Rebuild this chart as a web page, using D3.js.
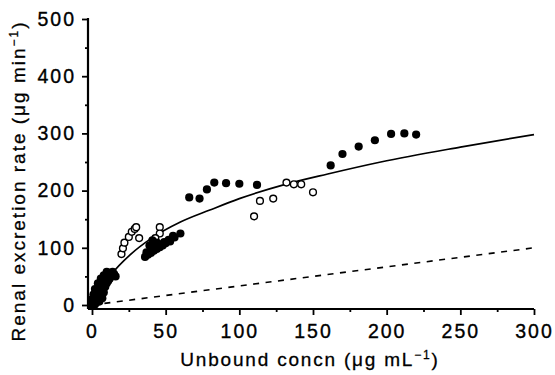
<!DOCTYPE html>
<html>
<head>
<meta charset="utf-8">
<script src="https://cdn.jsdelivr.net/npm/d3@7"></script>
<style>
  html, body { margin: 0; padding: 0; background: #fff; }
  svg { display: block; }
  text { font-family: "Liberation Sans", Arial, Helvetica, sans-serif; fill: #000; }
</style>
</head>
<body>
<svg id="chart" width="555" height="375"></svg>
<script>
// ---- data ----
const xTicks = [0, 50, 100, 150, 200, 250, 300];
const xMinorTicks = [25, 75, 125, 175, 225, 275];
const yTicks = [0, 100, 200, 300, 400, 500];
const yMinorTicks = [50, 150, 250, 350, 450];

// filled circles (x = unbound concn, y = renal excretion rate)
const filledX = [0, 1, 2, 3, 1, 2, 3, 4, 5, 6, 4, 6, 8, 7, 9, 8, 10, 11, 9, 12, 11, 13, 12, 14, 15, 16,
                 0, 1, 2, 4, 6, 8, 10, 5, 7,
                 36, 38, 40, 42, 44, 46, 48, 50, 53, 56, 60, 41, 44, 39, 47, 52,
                 37, 40, 43, 49, 55,
                 66, 73, 78, 83, 91, 100, 112,
                 162, 170, 181, 192, 203, 212, 220];
const filledY = [0, 3, 1, 5, 8, 12, 16, 10, 20, 14, 24, 26, 22, 30, 32, 36, 38, 42, 45, 46, 50, 52, 56, 58, 54, 50,
                 10, 18, 28, 38, 46, 52, 58, 6, 12,
                 84, 88, 91, 95, 98, 101, 104, 108, 111, 118, 125, 113, 109, 104, 106, 114,
                 92, 98, 103, 110, 121,
                 188, 186, 202, 214, 213, 212, 210,
                 244, 264, 277, 288, 299, 300, 298];

// open circles
const openX = [20, 21, 22, 25, 27, 29, 30, 32, 46, 46, 43,
               110, 114, 123, 132, 137, 142, 150];
const openY = [89, 99, 109, 119, 128, 133, 136, 117, 136, 125, 117,
               155, 182, 186, 214, 211, 211, 197];

// solid fitted curve, points read along it
const curveX = [0, 5, 13, 26, 40, 60, 80, 100, 130, 160, 196, 250, 300];
const curveY = [0, 23, 53, 88, 116, 145, 166, 186, 210, 229, 250, 276, 298];

// dashed line (end points)
const dashX = [0, 300];
const dashY = [0, 100];

// ---- drawing ----
const svg = d3.select("#chart");
const x = d3.scaleLinear().domain([0, 300]).range([92, 534]);
const y = d3.scaleLinear().domain([0, 500]).range([305, 19]);

const axisX0 = 88;   // y-axis line position (offset from x=0)
const axisY0 = 309;  // x-axis line position (offset from y=0)

// x axis
const gx = svg.append("g").attr("transform", `translate(0,${axisY0})`);
gx.call(d3.axisBottom(x).tickValues(xTicks).tickSize(6).tickPadding(9).tickSizeOuter(0));
gx.append("g").call(d3.axisBottom(x).tickValues(xMinorTicks).tickSize(3).tickFormat(""))
  .select(".domain").remove();
gx.select(".domain").attr("d", `M${axisX0},0H${x(300)}`);

// y axis
const gy = svg.append("g").attr("transform", `translate(${axisX0},0)`);
gy.call(d3.axisLeft(y).tickValues(yTicks).tickSize(6).tickPadding(6).tickSizeOuter(0));
gy.append("g").call(d3.axisLeft(y).tickValues(yMinorTicks).tickSize(3).tickFormat(""))
  .select(".domain").remove();
gy.select(".domain").attr("d", `M0,${y(500) - 1}V${axisY0}`);

svg.selectAll(".domain").attr("stroke", "#000").attr("stroke-width", 2.2);
svg.selectAll(".tick line").attr("stroke", "#000").attr("stroke-width", 1.8);
svg.selectAll(".tick text")
  .attr("font-size", 19.5)
  .attr("letter-spacing", 2)
  .attr("font-family", "'Liberation Sans', Arial, sans-serif")
  .attr("fill", "#000")
  .attr("stroke", "#000").attr("stroke-width", 0.35);

// dashed line
const dashData = dashX.map((d, i) => [d, dashY[i]]);
svg.append("path")
  .attr("d", d3.line().x(d => x(d[0])).y(d => y(d[1]))(dashData))
  .attr("fill", "none").attr("stroke", "#000").attr("stroke-width", 1.6)
  .attr("stroke-dasharray", "6,6.5");

// solid curve
const curveData = curveX.map((d, i) => [d, curveY[i]]);
svg.append("path")
  .attr("d", d3.line().x(d => x(d[0])).y(d => y(d[1])).curve(d3.curveMonotoneX)(curveData))
  .attr("fill", "none").attr("stroke", "#000").attr("stroke-width", 1.7);

// open circles
const openData = openX.map((d, i) => [d, openY[i]]);
svg.append("g").selectAll("circle").data(openData).join("circle")
  .attr("cx", d => x(d[0])).attr("cy", d => y(d[1])).attr("r", 3.4)
  .attr("fill", "#fff").attr("stroke", "#000").attr("stroke-width", 1.4);

// filled circles
const filledData = filledX.map((d, i) => [d, filledY[i]]);
svg.append("g").selectAll("circle").data(filledData).join("circle")
  .attr("cx", d => x(d[0])).attr("cy", d => y(d[1])).attr("r", 4.1)
  .attr("fill", "#000");

// axis titles
const xt = svg.append("text")
  .attr("x", 310).attr("y", 366)
  .attr("text-anchor", "middle")
  .attr("font-size", 19).attr("letter-spacing", 1.8)
  .attr("stroke", "#000").attr("stroke-width", 0.3);
xt.append("tspan").text("Unbound concn (\u03BCg mL");
xt.append("tspan").text("\u22121").attr("font-size", 12).attr("dy", -7);
xt.append("tspan").text(")").attr("dy", 7);

const yt = svg.append("text")
  .attr("transform", "translate(25,181) rotate(-90)")
  .attr("text-anchor", "middle")
  .attr("font-size", 19).attr("letter-spacing", 2)
  .attr("stroke", "#000").attr("stroke-width", 0.3);
yt.append("tspan").text("Renal excretion rate (\u03BCg min");
yt.append("tspan").text("\u22121").attr("font-size", 12).attr("dy", -7);
yt.append("tspan").text(")").attr("dy", 7);
</script>
</body>
</html>
